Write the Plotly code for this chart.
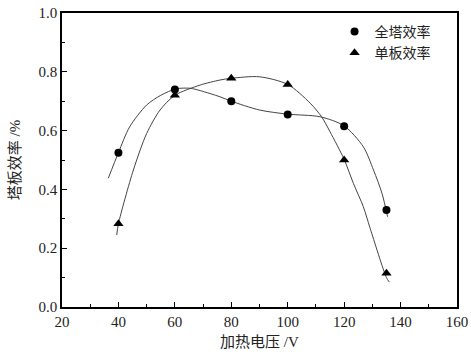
import plotly.graph_objects as go

# Measured points
voltage = [40, 60, 80, 100, 120, 135]
eff_total = [0.525, 0.74, 0.70, 0.655, 0.615, 0.33]
eff_plate = [0.283, 0.72, 0.778, 0.757, 0.50, 0.115]

# Fitted curves
fit_total_x = [36.4, 40, 44, 50, 55, 60.4, 65.4, 69, 76, 80, 90, 100, 111.5, 120, 126.8, 130.4, 133.4, 135.4]
fit_total_y = [0.438, 0.525, 0.613, 0.687, 0.72, 0.742, 0.744, 0.736, 0.715, 0.70, 0.67, 0.656, 0.647, 0.616, 0.545, 0.466, 0.387, 0.307]
fit_plate_x = [39.4, 40, 45.3, 50, 54.75, 60, 69, 76, 80, 90, 100, 108, 112, 115, 120, 123.3, 126.8, 129.2, 135, 136]
fit_plate_y = [0.245, 0.283, 0.466, 0.59, 0.67, 0.72, 0.755, 0.772, 0.778, 0.783, 0.757, 0.693, 0.647, 0.596, 0.502, 0.42, 0.341, 0.268, 0.10, 0.085]

x_title = "加热电压 /V"
y_title = "塔板效率 /%"
name_total = "全塔效率"
name_plate = "单板效率"

font_family = "Liberation Serif, Times New Roman, Noto Sans CJK SC, serif"
line_col = "#444444"

fig = go.Figure()
fig.add_trace(go.Scatter(x=fit_total_x, y=fit_total_y, mode="lines",
                         line=dict(color=line_col, width=1, shape="spline", smoothing=0.8),
                         showlegend=False, hoverinfo="skip"))
fig.add_trace(go.Scatter(x=fit_plate_x, y=fit_plate_y, mode="lines",
                         line=dict(color=line_col, width=1, shape="spline", smoothing=0.8),
                         showlegend=False, hoverinfo="skip"))
fig.add_trace(go.Scatter(x=voltage, y=eff_total, mode="markers", name=name_total,
                         marker=dict(symbol="circle", size=8, color="black")))
fig.add_trace(go.Scatter(x=voltage, y=eff_plate, mode="markers", name=name_plate,
                         marker=dict(symbol="triangle-up", size=9, color="black")))

axis_common = dict(
    showgrid=False, zeroline=False, showline=True, linecolor="black", linewidth=1.5,
    mirror=True, ticks="inside", ticklen=5, tickwidth=1.2, tickcolor="black",
    tickfont=dict(family=font_family, size=15, color="#222"), automargin=False,
)

fig.update_xaxes(range=[20, 160], dtick=20, tick0=20,
                 minor=dict(ticks="inside", ticklen=3, dtick=10, tickcolor="black", tickwidth=1),
                 title=dict(text=x_title, font=dict(family=font_family, size=15, color="#222"), standoff=8),
                 **axis_common)
fig.update_yaxes(range=[0, 1.0], dtick=0.2, tick0=0, tickformat=".1f",
                 minor=dict(ticks="inside", ticklen=3, dtick=0.1, tickcolor="black", tickwidth=1),
                 title=dict(text=y_title, font=dict(family=font_family, size=15, color="#222"), standoff=14),
                 **axis_common)

fig.update_layout(
    width=471, height=359,
    margin=dict(l=62, r=14, t=13, b=52),
    paper_bgcolor="white", plot_bgcolor="white",
    font=dict(family=font_family, size=15, color="#222"),
    legend=dict(x=0.69, y=0.99, xanchor="left", yanchor="top",
                bgcolor="rgba(0,0,0,0)", font=dict(size=14),
                itemwidth=30, tracegroupgap=0),
    showlegend=True,
)

fig.write_html("out.html",
               config={"displayModeBar": False},
               post_script="document.body.style.margin='0px';document.body.style.padding='0px';document.body.style.overflow='hidden';")
